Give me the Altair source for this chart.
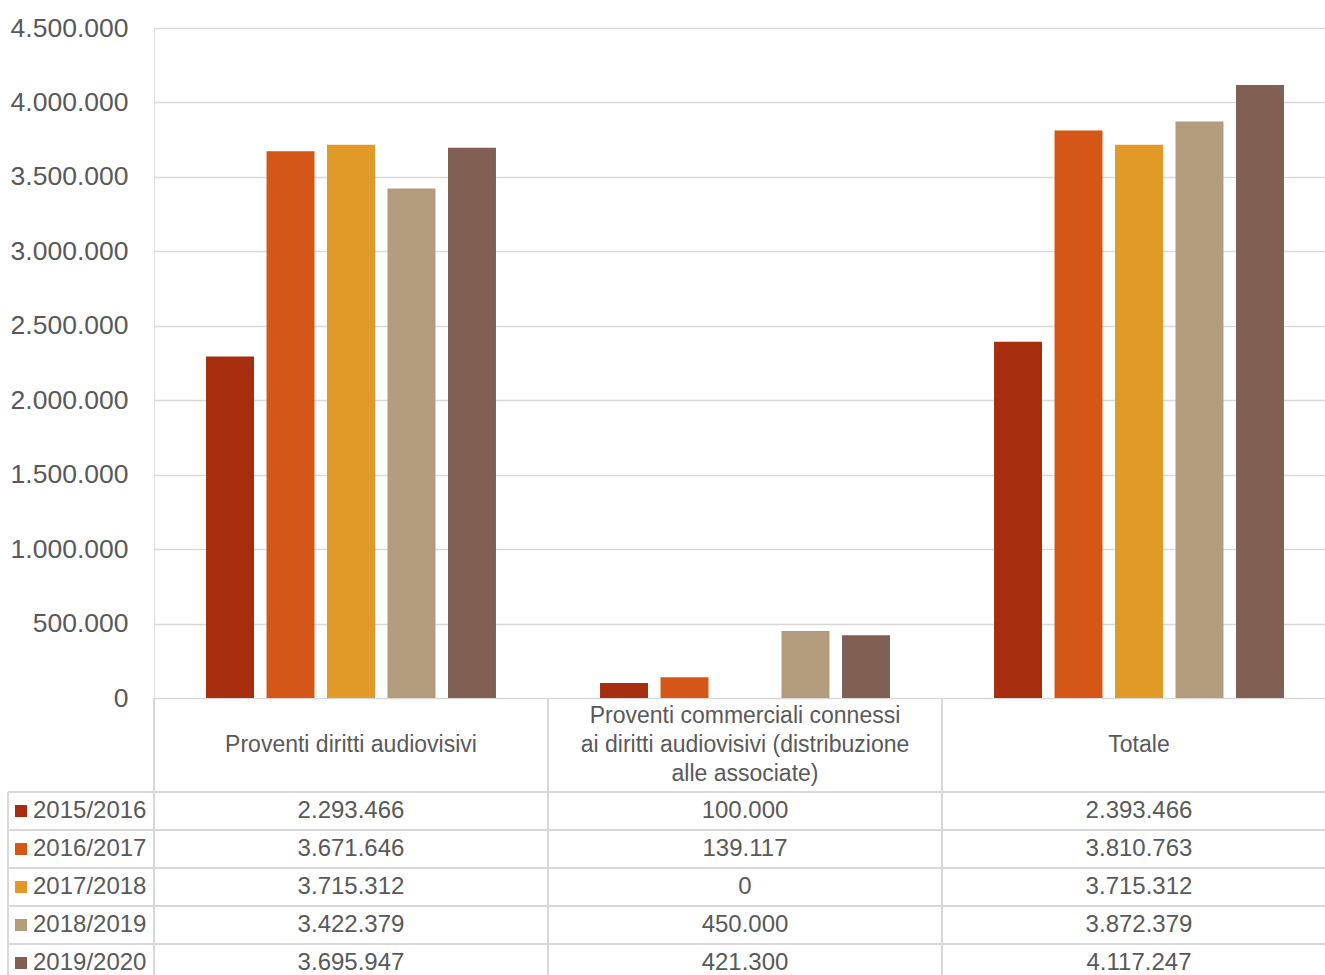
import altair as alt
import pandas as pd

# ---- data -------------------------------------------------------------
categories = [
    "Proventi diritti audiovisivi",
    "Proventi commerciali connessi ai diritti audiovisivi (distribuzione alle associate)",
    "Totale",
]
header_lines = [
    ["Proventi diritti audiovisivi"],
    ["Proventi commerciali connessi", "ai diritti audiovisivi (distribuzione", "alle associate)"],
    ["Totale"],
]
seasons = ["2015/2016", "2016/2017", "2017/2018", "2018/2019", "2019/2020"]
diritti = [2293466, 3671646, 3715312, 3422379, 3695947]
commerciali = [100000, 139117, 0, 450000, 421300]
totale = [2393466, 3810763, 3715312, 3872379, 4117247]
colors = ["#A62E0F", "#D55718", "#E19A28", "#B39C7C", "#7F6052"]
y_ticks = [0, 500000, 1000000, 1500000, 2000000, 2500000, 3000000, 3500000, 4000000, 4500000]

# ---- frames -----------------------------------------------------------
def it_num(v):
    return f"{v:,}".replace(",", ".")

rows = []
for cat, vals in zip(categories, [diritti, commerciali, totale]):
    for s, v in zip(seasons, vals):
        rows.append({"category": cat, "season": s, "value": v, "label": it_num(v)})
df = pd.DataFrame(rows)
season_df = pd.DataFrame({"season": seasons})
cat_df = pd.DataFrame({"category": categories})

hrows = []
for cat, lines in zip(categories, header_lines):
    n = len(lines)
    for i, t in enumerate(lines):
        hrows.append({"category": cat, "line": i - (n - 1) / 2, "text": t})
header_df = pd.DataFrame(hrows)
one_df = pd.DataFrame({"k": [0]})

# ---- layout -----------------------------------------------------------
PLOT_W = 1171
PLOT_H = 947
BAR_H = 670
COL_W = 394
HEADER_H = 94
ROW_H = 38
LINE_H = 29
LEGEND_W = 146
TEXT = "#595959"
LINE = "#D9D9D9"
FONT = "Liberation Sans"

x_scale = alt.Scale(type="band", domain=categories, range=[0, 3 * COL_W],
                    paddingInner=0, paddingOuter=0)
row_top = BAR_H + HEADER_H
row_scale = alt.Scale(type="band", domain=seasons, range=[row_top, row_top + 5 * ROW_H],
                      paddingInner=0, paddingOuter=0)
head_mid = BAR_H + HEADER_H / 2
line_scale = alt.Scale(domain=[-1, 1], range=[head_mid - LINE_H, head_mid + LINE_H],
                       nice=False, zero=False)
color_scale = alt.Scale(domain=seasons, range=colors)

bars = alt.Chart(df).mark_bar().encode(
    x=alt.X("category:N", sort=categories, scale=x_scale, axis=None),
    xOffset=alt.XOffset("season:N", sort=seasons,
                        scale=alt.Scale(domain=seasons, paddingInner=0.207, paddingOuter=0.86)),
    y=alt.Y("value:Q",
            scale=alt.Scale(domain=[0, 4500000], range=[BAR_H, 0], nice=False, zero=True),
            axis=alt.Axis(values=y_ticks, format=",d", grid=True, gridColor=LINE,
                          gridWidth=1.5, domain=False, ticks=False, tickSize=0,
                          labelPadding=26, labelFontSize=26.5, labelColor=TEXT,
                          labelFont=FONT, title=None)),
    color=alt.Color("season:N", sort=seasons, scale=color_scale, legend=None),
)

row_rules = alt.Chart(season_df).mark_rule(color=LINE, strokeWidth=2).encode(
    y=alt.Y("season:N", bandPosition=0, scale=row_scale, axis=None),
    x=alt.value(-LEGEND_W),
    x2=alt.value(3 * COL_W),
)

col_rules = alt.Chart(cat_df).mark_rule(color=LINE, strokeWidth=2).encode(
    x=alt.X("category:N", bandPosition=0, scale=x_scale, axis=None),
    y=alt.value(BAR_H),
    y2=alt.value(PLOT_H),
)

legend_rule = alt.Chart(one_df).mark_rule(color=LINE, strokeWidth=2).encode(
    x=alt.value(-LEGEND_W),
    y=alt.value(row_top),
    y2=alt.value(PLOT_H),
)

header = alt.Chart(header_df).mark_text(
    font=FONT, fontSize=23, color=TEXT, align="center", baseline="middle",
).encode(
    x=alt.X("category:N", bandPosition=0.5, scale=x_scale, axis=None),
    y=alt.Y("line:Q", scale=line_scale, axis=None),
    text="text:N",
)

cells = alt.Chart(df).mark_text(
    font=FONT, fontSize=24, color=TEXT, align="center", baseline="middle",
).encode(
    x=alt.X("category:N", bandPosition=0.5, scale=x_scale, axis=None),
    y=alt.Y("season:N", bandPosition=0.5, scale=row_scale, axis=None),
    text="label:N",
)

legend_sq = alt.Chart(season_df).mark_square(size=144, opacity=1).encode(
    x=alt.value(-LEGEND_W + 13),
    y=alt.Y("season:N", bandPosition=0.5, scale=row_scale, axis=None),
    color=alt.Color("season:N", sort=seasons, scale=color_scale, legend=None),
)

legend_txt = alt.Chart(season_df).mark_text(
    font=FONT, fontSize=24, color=TEXT, align="left", baseline="middle",
).encode(
    x=alt.value(-LEGEND_W + 25),
    y=alt.Y("season:N", bandPosition=0.5, scale=row_scale, axis=None),
    text="season:N",
)

chart = alt.layer(
    bars, row_rules, col_rules, legend_rule, header, cells, legend_sq, legend_txt
).resolve_scale(
    y="independent"
).properties(
    width=PLOT_W,
    height=PLOT_H,
    autosize=alt.AutoSizeParams(type="none"),
    padding={"left": 154, "top": 28, "right": 0, "bottom": 0},
).configure_view(
    stroke=None
).configure(
    background="white",
    locale={"number": {"decimal": ",", "thousands": ".", "grouping": [3],
                       "currency": ["", " €"]}},
)

chart.save("out.html", embed_options={"renderer": "svg", "actions": False})
